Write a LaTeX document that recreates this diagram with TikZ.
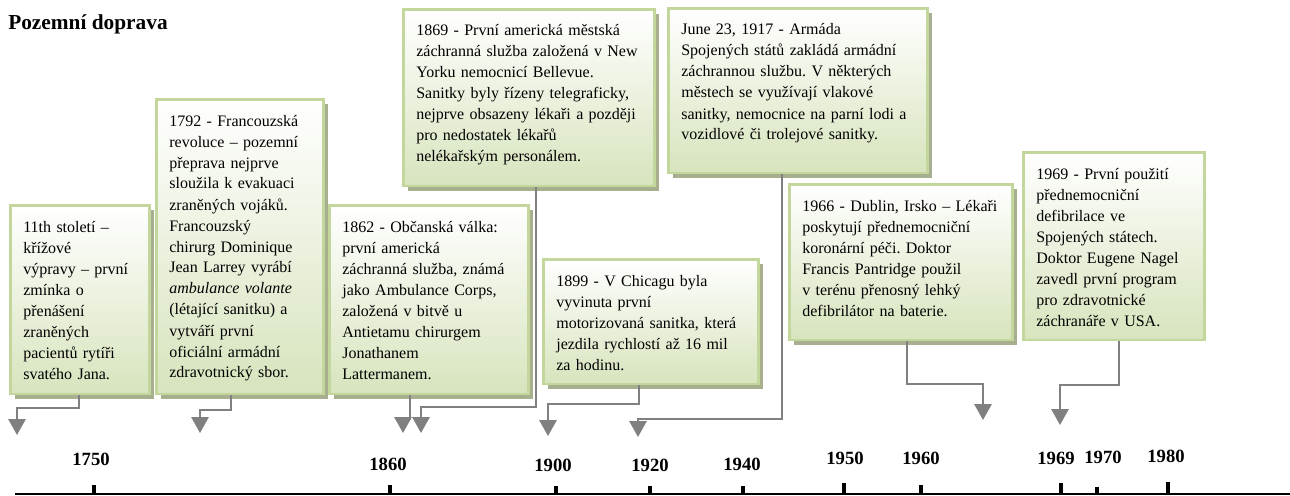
\documentclass[tikz,border=0pt]{standalone}
\usepackage{fontspec}
\setmainfont{Liberation Serif}
\usepackage{tikz}
\usetikzlibrary{arrows.meta}
\usetikzlibrary{positioning,shadows}
\tikzset{>={Triangle[width=13pt,length=12pt]}}
\frenchspacing

\definecolor{boxline}{HTML}{C3D69B}
\definecolor{boxfill}{HTML}{D7E4BD}
\definecolor{boxshadow}{HTML}{A7AF8E}
\definecolor{linkgray}{HTML}{808080}

\begin{document}
\begin{tikzpicture}[x=0.75pt, y=-0.75pt,
	event/.style={draw=boxline, line width=2pt, top color=white, bottom color=boxfill, anchor=north west, inner xsep=9.75pt, inner ysep=0pt, text height=20pt, align=left, font=\fontsize{12}{15.75}\selectfont},
	lifted/.style={general shadow={fill=boxshadow, shadow xshift=3.5pt, shadow yshift=-3.5pt}},
	link/.style={draw=linkgray, line width=1.5pt, ->},
	yearlabel/.style={font=\bfseries\fontsize{14}{16}\selectfont, inner sep=0pt},
	yeartick/.style={line width=2.5pt}]
		\useasboundingbox (0,0) rectangle (1290,496);

		\node[anchor=base west, inner sep=0pt, font=\bfseries\fontsize{16}{19}\selectfont] (title) at (8,29) {Pozemní doprava};

		% udalosti
		\node[event, lifted, text width=84.75pt, text depth=121.5pt] (b1) at (9,204) {11th století --\\ křížové\\ výpravy -- první\\ zmínka o\\ přenášení\\ zraněných\\ pacientů rytíři\\ svatého Jana.};
		\node[event, lifted, text width=105.75pt, text depth=201pt] (b2) at (155,98) {1792 - Francouzská\\ revoluce -- pozemní\\ přeprava nejprve\\ sloužila k evakuaci\\ zraněných vojáků.\\ Francouzský\\ chirurg Dominique\\ Jean Larrey vyrábí\\ \textit{ambulance volante}\\ (létající sanitku) a\\ vytváří první\\ oficiální armádní\\ zdravotnický sbor.};
		\node[event, lifted, text width=129.75pt, text depth=121.5pt] (b3) at (328,204) {1862 - Občanská válka:\\ první americká\\ záchranná služba, známá\\ jako Ambulance Corps,\\ založená v bitvě u\\ Antietamu chirurgem\\ Jonathanem\\ Lattermanem.};
		\node[event, lifted, text width=168.75pt, text depth=112.5pt] (b4) at (402,8) {1869 - První americká městská\\ záchranná služba založená v New\\ Yorku nemocnicí Bellevue.\\ Sanitky byly řízeny telegraficky,\\ nejprve obsazeny lékaři a později\\ pro nedostatek lékařů\\ nelékařským personálem.};
		\node[event, lifted, text width=141.75pt, text depth=73.5pt] (b5) at (542,258) {1899 - V Chicagu byla\\ vyvinuta první\\ motorizovaná sanitka, která\\ jezdila rychlostí až 16 mil\\ za hodinu.};
		\node[event, lifted, text width=174.75pt, text depth=103.5pt] (b6) at (667,7) {June 23, 1917 - Armáda\\ Spojených států zakládá armádní\\ záchrannou službu. V některých\\ městech se využívají vlakové\\ sanitky, nemocnice na parní lodi a\\ vozidlové či trolejové sanitky.};
		\node[event, lifted, text width=147.75pt, text depth=96.75pt] (b7) at (788,183) {1966 - Dublin, Irsko -- Lékaři\\ poskytují přednemocniční\\ koronární péči. Doktor\\ Francis Pantridge použil\\ v terénu přenosný lehký\\ defibrilátor na baterie.};
		\node[event, text width=116.25pt, text depth=120.75pt] (b8) at (1022,151) {1969 - První použití\\ přednemocniční\\ defibrilace ve\\ Spojených státech.\\ Doktor Eugene Nagel\\ zavedl první program\\ pro zdravotnické\\ záchranáře v USA.};

		% konce sipek
		\coordinate (t1) at (17,435);
		\coordinate (t2) at (200,433);
		\coordinate (t3) at (403,433);
		\coordinate (t4) at (421,433);
		\coordinate (t5) at (548,436);
		\coordinate (t6) at (638,437);
		\coordinate (t7) at (983,420);
		\coordinate (t8) at (1060,425);

		\draw[link] ([xshift=-1pt]b1.south) -- ++(0,13) -| (t1);
		\draw[link] ([xshift=-6.4pt]b2.south) -- ++(0,15) -| (t2);
		\draw[link] ([xshift=-13.9pt]b3.south) -- ++(0,24) -| (t3);
		\draw[link] ([xshift=5.6pt]b4.south) -- ++(0,220) -| (t4);
		\draw[link] ([xshift=-8.6pt]b5.south) -- ++(0,19) -| (t5);
		\draw[link] ([xshift=-11.6pt]b6.south) -- ++(0,245) -| (t6);
		\draw[link] ([xshift=4.9pt]b7.south) -- ++(0,43) -| (t7);
		\draw[link] ([xshift=4.1pt]b8.south) -- ++(0,44) -| (t8);

		% osa
		\coordinate (axl) at (15,494);
		\coordinate (axr) at (1290,494);
		\draw[line width=2pt] (axl) -- (axr);

		\draw[yeartick] (94,494) -- (94,485);
		\draw[yeartick] (390,494) -- (390,485);
		\draw[yeartick] (556,494) -- (556,486);
		\draw[yeartick] (650,494) -- (650,486);
		\draw[yeartick] (743,494) -- (743,486);
		\draw[yeartick] (844,494) -- (844,483);
		\draw[yeartick] (921,494) -- (921,485);
		\draw[yeartick] (1061,494) -- (1061,483);
		\draw[yeartick] (1097,494) -- (1097,487);
		\draw[yeartick] (1168,494) -- (1168,482);

		\node[yearlabel] (y1750) at (91,459) {1750};
		\node[yearlabel] (y1860) at (388,464) {1860};
		\node[yearlabel] (y1900) at (553,465) {1900};
		\node[yearlabel] (y1920) at (650,465) {1920};
		\node[yearlabel] (y1940) at (742,464) {1940};
		\node[yearlabel] (y1950) at (845,458) {1950};
		\node[yearlabel] (y1960) at (921,458) {1960};
		\node[yearlabel] (y1969) at (1056,458) {1969};
		\node[yearlabel] (y1970) at (1103,457) {1970};
		\node[yearlabel] (y1980) at (1166,456) {1980};
\end{tikzpicture}
\end{document}
